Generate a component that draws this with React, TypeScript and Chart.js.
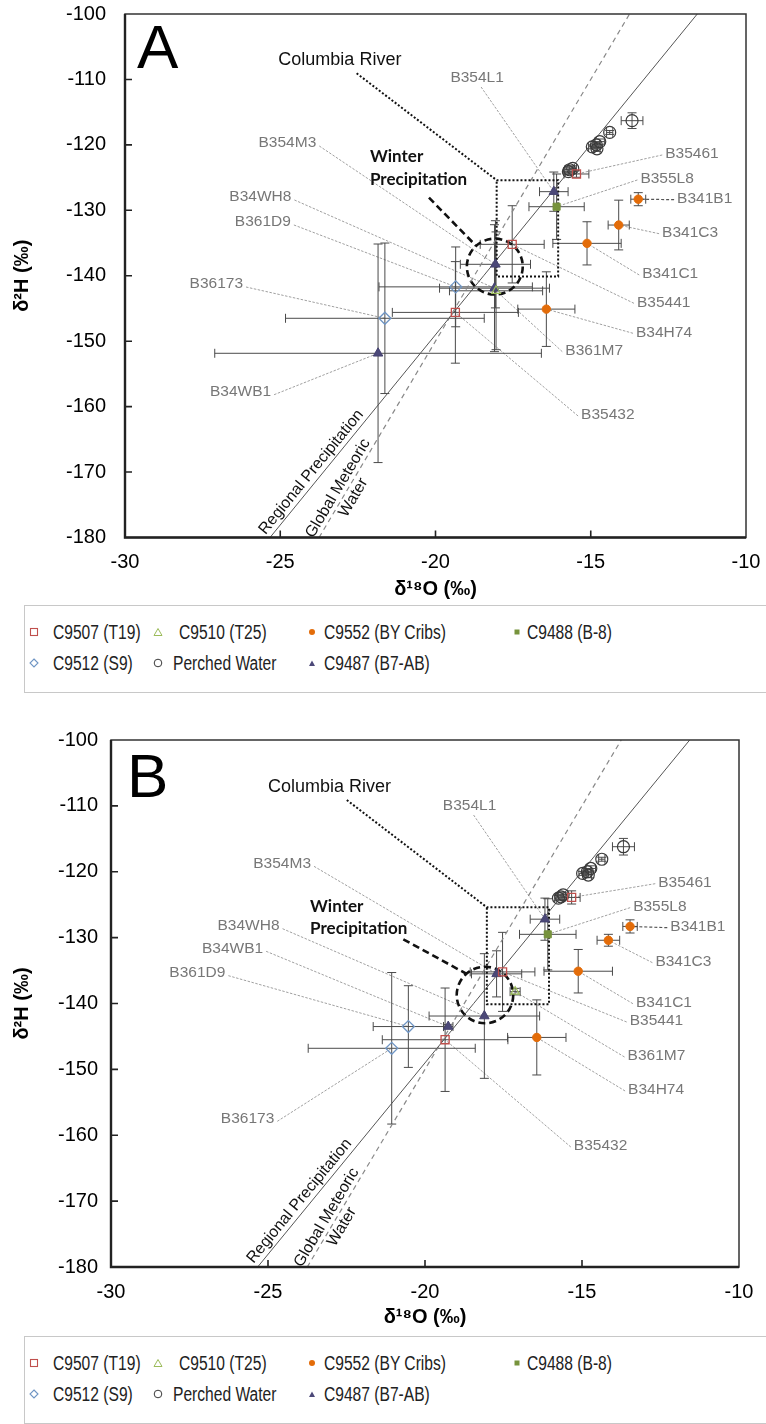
import React, { useEffect, useRef } from "react";
import { Chart, registerables } from "chart.js";
Chart.register(...registerables);

type P = { x: number; y: number; xe: number; ye: number; name?: string };
type L = { name: string; x: number; y: number; side: "l" | "r" | "b"; dark?: boolean };

const FONT = "'Liberation Sans', Arial, sans-serif";

// axis ranges and ticks
const X_MIN = -30, X_MAX = -10, X_STEP = 5;
const Y_MIN = -180, Y_MAX = -100, Y_STEP = 10;
const X_TITLE = "δ¹⁸O (‰)";
const Y_TITLE = "δ²H (‰)";

// reference lines (endpoints)
const REGIONAL_X = [-25.33, -11.57];
const REGIONAL_Y = [-180, -100];
const GMWL_X = [-23.75, -13.75];
const GMWL_Y = [-180, -100];

// Columbia River box (x left/right, y top/bottom)
const COL_BOX_X = [-18.03, -16.05];
const COL_BOX_Y = [-125.4, -140.1];

// ---------------- Panel A ----------------
const A_T19: P[] = [
  { name: "B35461", x: -15.46, y: -124.45, xe: 0.4, ye: 0.5 },
  { name: "B35441", x: -17.53, y: -135.2, xe: 1.03, ye: 5.9 },
  { name: "B35432", x: -19.36, y: -145.6, xe: 2.03, ye: 7.76 },
];
const A_T25: P[] = [{ name: "B361M7", x: -18.05, y: -142.3, xe: 1.5, ye: 9.0 }];
const A_BY: P[] = [
  { name: "B341B1", x: -13.47, y: -128.3, xe: 0.24, ye: 1.0 },
  { name: "B341C3", x: -14.1, y: -132.25, xe: 0.34, ye: 3.8 },
  { name: "B341C1", x: -15.12, y: -135.05, xe: 1.1, ye: 3.3 },
  { name: "B34H74", x: -16.43, y: -145.1, xe: 0.92, ye: 5.7 },
];
const A_B8: P[] = [{ name: "B355L8", x: -16.1, y: -129.45, xe: 0.89, ye: 5.0 }];
const A_S9: P[] = [
  { name: "B361D9", x: -19.35, y: -141.7, xe: 2.47, ye: 6.1 },
  { name: "B36173", x: -21.63, y: -146.5, xe: 3.2, ye: 11.5 },
];
const A_PW: P[] = [
  { x: -13.67, y: -116.3, xe: 0.35, ye: 1.2 },
  { x: -14.39, y: -118.1, xe: 0.1, ye: 0.3 },
  { x: -14.71, y: -119.5, xe: 0.15, ye: 0.4 },
  { x: -14.82, y: -120.0, xe: 0.12, ye: 0.4 },
  { x: -14.95, y: -120.3, xe: 0.12, ye: 0.3 },
  { x: -14.8, y: -120.6, xe: 0.1, ye: 0.4 },
  { x: -15.68, y: -123.8, xe: 0.15, ye: 0.4 },
  { x: -15.58, y: -123.6, xe: 0.12, ye: 0.4 },
  { x: -15.72, y: -124.1, xe: 0.15, ye: 0.4 },
];
const A_B7: P[] = [
  { name: "B354L1", x: -16.19, y: -127.15, xe: 0.46, ye: 3.0 },
  { name: "B354M3", x: -18.07, y: -138.25, xe: 1.13, ye: 6.66 },
  { name: "B34WH8", x: -18.1, y: -141.9, xe: 1.77, ye: 9.7 },
  { name: "B34WB1", x: -21.85, y: -151.85, xe: 5.26, ye: 16.7 },
];
const A_LABELS: L[] = [
  { name: "B354L1", x: -18.66, y: -109.78, side: "b" },
  { name: "B35461", x: -11.74, y: -121.39, side: "r" },
  { name: "B355L8", x: -12.54, y: -125.21, side: "r" },
  { name: "B341B1", x: -11.33, y: -128.22, side: "r", dark: true },
  { name: "B341C3", x: -11.8, y: -133.42, side: "r" },
  { name: "B341C1", x: -12.44, y: -139.73, side: "r" },
  { name: "B35441", x: -12.65, y: -144.06, side: "r" },
  { name: "B34H74", x: -12.64, y: -148.64, side: "r" },
  { name: "B361M7", x: -14.89, y: -151.45, side: "r" },
  { name: "B35432", x: -14.45, y: -161.28, side: "r" },
  { name: "B354M3", x: -24.77, y: -119.71, side: "l" },
  { name: "B34WH8", x: -25.64, y: -127.96, side: "l" },
  { name: "B361D9", x: -25.56, y: -131.78, side: "l" },
  { name: "B36173", x: -27.06, y: -141.26, side: "l" },
  { name: "B34WB1", x: -26.28, y: -157.72, side: "l" },
];
const A_COLUMBIA_TEXT = { x: -23.08, y: -107.03 };
const A_COLUMBIA_FROM = { x: -22.54, y: -109.06 };
const A_WINTER_TEXT = { x: -22.11, y1: -121.8, y2: -125.37 };
const A_WINTER_LEADER_X = [-20.21, -18.7];
const A_WINTER_LEADER_Y = [-128.07, -135.4];
const A_CIRCLE = { x: -18.09, y: -138.6, r: 0.9 };

// ---------------- Panel B ----------------
const B_T19: P[] = [
  { name: "B35461", x: -15.33, y: -123.9, xe: 0.27, ye: 1.0 },
  { name: "B35441", x: -17.53, y: -135.2, xe: 1.03, ye: 6.0 },
  { name: "B35432", x: -19.36, y: -145.5, xe: 2.0, ye: 7.85 },
];
const B_T25: P[] = [{ name: "B361M7", x: -17.13, y: -138.2, xe: 0.16, ye: 0.5 }];
const B_BY: P[] = [
  { name: "B341B1", x: -13.47, y: -128.3, xe: 0.23, ye: 1.0 },
  { name: "B341C3", x: -14.16, y: -130.4, xe: 0.36, ye: 0.9 },
  { name: "B341C1", x: -15.12, y: -135.1, xe: 1.09, ye: 3.3 },
  { name: "B34H74", x: -16.44, y: -145.15, xe: 0.93, ye: 5.7 },
];
const B_B8: P[] = [{ name: "B355L8", x: -16.09, y: -129.5, xe: 0.9, ye: 5.4 }];
const B_S9: P[] = [
  { name: "B361D9", x: -20.53, y: -143.5, xe: 1.12, ye: 6.2 },
  { name: "B36173", x: -21.06, y: -146.8, xe: 2.66, ye: 11.5 },
];
const B_PW: P[] = [
  { x: -13.68, y: -116.2, xe: 0.35, ye: 1.26 },
  { x: -14.37, y: -118.1, xe: 0.1, ye: 0.3 },
  { x: -14.72, y: -119.5, xe: 0.15, ye: 0.4 },
  { x: -14.83, y: -120.0, xe: 0.12, ye: 0.4 },
  { x: -14.98, y: -120.25, xe: 0.12, ye: 0.3 },
  { x: -14.8, y: -120.5, xe: 0.1, ye: 0.4 },
  { x: -15.67, y: -123.8, xe: 0.15, ye: 0.4 },
  { x: -15.75, y: -124.0, xe: 0.12, ye: 0.4 },
  { x: -15.6, y: -123.5, xe: 0.15, ye: 0.4 },
];
const B_B7: P[] = [
  { name: "B354L1", x: -16.18, y: -127.2, xe: 0.47, ye: 3.2 },
  { name: "B354M3", x: -17.72, y: -135.5, xe: 0.8, ye: 3.5 },
  { name: "B34WH8", x: -18.11, y: -141.9, xe: 1.76, ye: 9.46 },
  { name: "B34WB1", x: -19.26, y: -143.5, xe: 0.15, ye: 0.3 },
];
const B_LABELS: L[] = [
  { name: "B354L1", x: -18.58, y: -110.02, side: "b" },
  { name: "B35461", x: -11.72, y: -121.66, side: "r" },
  { name: "B355L8", x: -12.52, y: -125.3, side: "r" },
  { name: "B341B1", x: -11.31, y: -128.34, side: "r", dark: true },
  { name: "B341C3", x: -11.77, y: -133.65, side: "r" },
  { name: "B341C1", x: -12.39, y: -139.88, side: "r" },
  { name: "B35441", x: -12.63, y: -142.66, side: "r" },
  { name: "B361M7", x: -12.63, y: -147.97, side: "r" },
  { name: "B34H74", x: -12.64, y: -153.13, side: "r" },
  { name: "B35432", x: -14.41, y: -161.63, side: "r" },
  { name: "B354M3", x: -24.55, y: -118.72, side: "l" },
  { name: "B34WH8", x: -25.62, y: -128.19, side: "l" },
  { name: "B34WB1", x: -26.13, y: -131.62, side: "l" },
  { name: "B361D9", x: -27.25, y: -135.32, side: "l" },
  { name: "B36173", x: -25.65, y: -157.43, side: "l" },
];
const B_COLUMBIA_TEXT = { x: -23.04, y: -107.09 };
const B_COLUMBIA_FROM = { x: -22.49, y: -109.11 };
const B_WINTER_TEXT = { x: -23.66, y1: -125.3, y2: -128.58 };
const B_WINTER_LEADER_X = [-20.69, -18.67];
const B_WINTER_LEADER_Y = [-130.25, -135.52];
const B_CIRCLE = { x: -18.09, y: -138.71, r: 0.9 };

// line label anchors
const REG_LABEL = { x: -24.0, y: -170.0 };
const GMW_LABEL = { x: -22.89, y: -173.2 };

// series styles
const SERIES = [
  { key: "T19", label: "C9507 (T19)", style: "rect", radius: 5.7, stroke: "#c0504d", fill: "rgba(0,0,0,0)", width: 1.3 },
  { key: "T25", label: "C9510 (T25)", style: "triangle", radius: 5, stroke: "#9bbb59", fill: "rgba(0,0,0,0)", width: 1.2 },
  { key: "BY", label: "C9552 (BY Cribs)", style: "circle", radius: 4.2, stroke: "#e36c09", fill: "#e36c09", width: 1 },
  { key: "B8", label: "C9488 (B-8)", style: "rect", radius: 5, stroke: "#77933c", fill: "#77933c", width: 1 },
  { key: "S9", label: "C9512 (S9)", style: "rectRot", radius: 6, stroke: "#6f95c4", fill: "rgba(0,0,0,0)", width: 1.3 },
  { key: "PW", label: "Perched Water", style: "circle", radius: 6, stroke: "#3a3a3a", fill: "rgba(0,0,0,0)", width: 1.2 },
  { key: "B7", label: "C9487 (B7-AB)", style: "triangle", radius: 5.5, stroke: "#45426f", fill: "#4b4878", width: 1 },
];

type Panel = {
  letter: string;
  data: Record<string, P[]>;
  labels: L[];
  columbiaText: { x: number; y: number };
  columbiaFrom: { x: number; y: number };
  winterText: { x: number; y1: number; y2: number };
  winterLX: number[];
  winterLY: number[];
  circle: { x: number; y: number; r: number };
  top: number;
  height: number;
  padTop: number;
  padRight: number;
  yWidth: number;
  xHeight: number;
  yTickPad: number;
  letterDX: number;
  letterDY: number;
};

const PANEL_A: Panel = {
  letter: "A",
  data: { T19: A_T19, T25: A_T25, BY: A_BY, B8: A_B8, S9: A_S9, PW: A_PW, B7: A_B7 },
  labels: A_LABELS,
  columbiaText: A_COLUMBIA_TEXT,
  columbiaFrom: A_COLUMBIA_FROM,
  winterText: A_WINTER_TEXT,
  winterLX: A_WINTER_LEADER_X,
  winterLY: A_WINTER_LEADER_Y,
  circle: A_CIRCLE,
  top: 0,
  height: 602,
  padTop: 14,
  padRight: 20,
  yWidth: 125,
  xHeight: 64.5,
  yTickPad: 19,
  letterDX: 12,
  letterDY: 54,
};
const PANEL_B: Panel = {
  letter: "B",
  data: { T19: B_T19, T25: B_T25, BY: B_BY, B8: B_B8, S9: B_S9, PW: B_PW, B7: B_B7 },
  labels: B_LABELS,
  columbiaText: B_COLUMBIA_TEXT,
  columbiaFrom: B_COLUMBIA_FROM,
  winterText: B_WINTER_TEXT,
  winterLX: B_WINTER_LEADER_X,
  winterLY: B_WINTER_LEADER_Y,
  circle: B_CIRCLE,
  top: 700,
  height: 630,
  padTop: 40,
  padRight: 27,
  yWidth: 111,
  xHeight: 63,
  yTickPad: 13,
  letterDX: 16,
  letterDY: 57,
};

function makeOverlay(panel: Panel) {
  const allPts: P[] = Object.values(panel.data).flat();
  const find = (n: string) => allPts.find((p) => p.name === n);
  return {
    id: "overlay" + panel.letter,
    beforeDatasetsDraw(chart: any) {
      const { ctx, chartArea: a } = chart;
      const xs = chart.scales.x, ys = chart.scales.y;
      ctx.save();
      ctx.beginPath();
      ctx.rect(a.left, a.top, a.right - a.left, a.bottom - a.top);
      ctx.clip();
      // leader lines
      ctx.font = `15.5px ${FONT}`;
      for (const l of panel.labels) {
        const p = find(l.name);
        if (!p) continue;
        const px = xs.getPixelForValue(l.x), py = ys.getPixelForValue(l.y);
        const w = ctx.measureText(l.name).width;
        let sx = px, sy = py;
        if (l.side === "r") { sx = px - w / 2 - 3; sy = py + 1; }
        else if (l.side === "l") { sx = px + w / 2 + 3; sy = py + 3; }
        else { sx = px + 4; sy = py + 9; }
        const tx = xs.getPixelForValue(p.x), ty = ys.getPixelForValue(p.y);
        ctx.beginPath();
        ctx.strokeStyle = l.dark ? "#555" : "#a0a0a0";
        ctx.lineWidth = l.dark ? 1.2 : 1;
        ctx.setLineDash(l.dark ? [3, 2] : [2.5, 1.5]);
        ctx.moveTo(sx, sy);
        ctx.lineTo(tx, ty);
        ctx.stroke();
      }
      ctx.setLineDash([]);
      // error bars
      const CAP = 4.5;
      ctx.strokeStyle = "#4a4a4a";
      ctx.lineWidth = 1;
      for (const s of SERIES) {
        for (const d of panel.data[s.key]) {
          const cx = xs.getPixelForValue(d.x), cy = ys.getPixelForValue(d.y);
          const x1 = xs.getPixelForValue(d.x - d.xe), x2 = xs.getPixelForValue(d.x + d.xe);
          const y1 = ys.getPixelForValue(d.y - d.ye), y2 = ys.getPixelForValue(d.y + d.ye);
          ctx.beginPath();
          ctx.moveTo(x1, cy); ctx.lineTo(x2, cy);
          ctx.moveTo(x1, cy - CAP); ctx.lineTo(x1, cy + CAP);
          ctx.moveTo(x2, cy - CAP); ctx.lineTo(x2, cy + CAP);
          ctx.moveTo(cx, y1); ctx.lineTo(cx, y2);
          ctx.moveTo(cx - CAP, y1); ctx.lineTo(cx + CAP, y1);
          ctx.moveTo(cx - CAP, y2); ctx.lineTo(cx + CAP, y2);
          ctx.stroke();
        }
      }
      // winter precipitation circle
      const ccx = xs.getPixelForValue(panel.circle.x), ccy = ys.getPixelForValue(panel.circle.y);
      const cr = xs.getPixelForValue(panel.circle.x + panel.circle.r) - ccx;
      ctx.beginPath();
      ctx.strokeStyle = "#111";
      ctx.lineWidth = 2.6;
      ctx.setLineDash([7, 4]);
      ctx.arc(ccx, ccy, cr, 0, Math.PI * 2);
      ctx.stroke();
      ctx.setLineDash([]);
      ctx.restore();
    },
    afterDatasetsDraw(chart: any) {
      const { ctx, chartArea: a } = chart;
      const xs = chart.scales.x, ys = chart.scales.y;
      ctx.save();
      // point labels
      ctx.font = `15.5px ${FONT}`;
      ctx.fillStyle = "#777";
      ctx.textAlign = "center";
      ctx.textBaseline = "middle";
      for (const l of panel.labels) {
        ctx.fillText(l.name, xs.getPixelForValue(l.x), ys.getPixelForValue(l.y));
      }
      // Columbia River
      ctx.fillStyle = "#111";
      ctx.font = `18px ${FONT}`;
      ctx.fillText("Columbia River", xs.getPixelForValue(panel.columbiaText.x), ys.getPixelForValue(panel.columbiaText.y));
      // Winter Precipitation
      ctx.font = `bold 17px Lato, ${FONT}`;
      ctx.textAlign = "left";
      ctx.fillText("Winter", xs.getPixelForValue(panel.winterText.x), ys.getPixelForValue(panel.winterText.y1));
      ctx.fillText("Precipitation", xs.getPixelForValue(panel.winterText.x), ys.getPixelForValue(panel.winterText.y2));
      // rotated line labels
      const along = (lx: number[], ly: number[], anchor: { x: number; y: number }, lines: string[]) => {
        const x1 = xs.getPixelForValue(lx[0]), y1 = ys.getPixelForValue(ly[0]);
        const x2 = xs.getPixelForValue(lx[1]), y2 = ys.getPixelForValue(ly[1]);
        const ang = Math.atan2(y2 - y1, x2 - x1);
        ctx.save();
        ctx.translate(xs.getPixelForValue(anchor.x), ys.getPixelForValue(anchor.y));
        ctx.rotate(ang);
        ctx.textAlign = "center";
        ctx.textBaseline = "middle";
        const lh = 18;
        lines.forEach((t, i) => ctx.fillText(t, 0, (i - (lines.length - 1) / 2) * lh));
        ctx.restore();
      };
      ctx.font = `16px ${FONT}`;
      ctx.fillStyle = "#111";
      along(REGIONAL_X, REGIONAL_Y, REG_LABEL, ["Regional Precipitation"]);
      along(GMWL_X, GMWL_Y, GMW_LABEL, ["Global Meteoric", "Water"]);
      // panel letter
      ctx.font = `62px ${FONT}`;
      ctx.textAlign = "left";
      ctx.textBaseline = "alphabetic";
      ctx.fillStyle = "#000";
      ctx.fillText(panel.letter, a.left + panel.letterDX, a.top + panel.letterDY);
      ctx.restore();
    },
    afterDraw(chart: any) {
      const { ctx, chartArea: a } = chart;
      const xs = chart.scales.x, ys = chart.scales.y;
      ctx.save();
      ctx.strokeStyle = "#333";
      ctx.lineWidth = 1.5;
      ctx.strokeRect(a.left, a.top, a.right - a.left, a.bottom - a.top);
      ctx.strokeStyle = "#222";
      ctx.lineWidth = 2.4;
      ctx.beginPath();
      ctx.moveTo(a.left, a.top);
      ctx.lineTo(a.left, a.bottom);
      ctx.lineTo(a.right, a.bottom);
      ctx.stroke();
      // inside tick marks
      ctx.lineWidth = 1.6;
      ctx.beginPath();
      for (const t of ys.ticks) {
        if (t.value <= Y_MIN || t.value >= Y_MAX) continue;
        const py = ys.getPixelForValue(t.value);
        ctx.moveTo(a.left, py);
        ctx.lineTo(a.left + 7, py);
      }
      for (const t of xs.ticks) {
        if (t.value <= X_MIN || t.value >= X_MAX) continue;
        const px = xs.getPixelForValue(t.value);
        ctx.moveTo(px, a.bottom);
        ctx.lineTo(px, a.bottom - 7);
      }
      ctx.stroke();
      ctx.restore();
    },
  };
}

function makeConfig(panel: Panel): any {
  const datasets: any[] = [];
  datasets.push({
    label: "Regional Precipitation",
    data: REGIONAL_X.map((x, i) => ({ x, y: REGIONAL_Y[i] })),
    showLine: true, pointRadius: 0, borderColor: "#555", borderWidth: 1, order: 20,
  });
  datasets.push({
    label: "Global Meteoric Water",
    data: GMWL_X.map((x, i) => ({ x, y: GMWL_Y[i] })),
    showLine: true, pointRadius: 0, borderColor: "#888", borderWidth: 1.2, borderDash: [5, 4], order: 20,
  });
  datasets.push({
    label: "Columbia River",
    data: [
      panel.columbiaFrom,
      { x: COL_BOX_X[0], y: COL_BOX_Y[0] },
      { x: COL_BOX_X[1], y: COL_BOX_Y[0] },
      { x: COL_BOX_X[1], y: COL_BOX_Y[1] },
      { x: COL_BOX_X[0], y: COL_BOX_Y[1] },
      { x: COL_BOX_X[0], y: COL_BOX_Y[0] },
    ],
    showLine: true, pointRadius: 0, borderColor: "#111", borderWidth: 2, borderDash: [2, 2], order: 15,
  });
  datasets.push({
    label: "Winter Precipitation",
    data: panel.winterLX.map((x, i) => ({ x, y: panel.winterLY[i] })),
    showLine: true, pointRadius: 0, borderColor: "#111", borderWidth: 2.6, borderDash: [7, 4], order: 15,
  });
  SERIES.forEach((s, i) => {
    datasets.push({
      label: s.label,
      data: panel.data[s.key].map((d) => ({ x: d.x, y: d.y })),
      pointStyle: s.style,
      pointRadius: s.radius,
      pointBorderColor: s.stroke,
      pointBackgroundColor: s.fill,
      pointBorderWidth: s.width,
      borderColor: s.stroke,
      backgroundColor: s.fill,
      showLine: false,
      order: 1 + i,
    });
  });
  const tickFont = { family: FONT, size: 20 };
  const titleFont = { family: FONT, size: 20, weight: "bold" as const };
  return {
    type: "scatter",
    data: { datasets },
    options: {
      animation: false,
      responsive: false,
      maintainAspectRatio: false,
      events: [],
      layout: { padding: { left: 0, right: panel.padRight, top: panel.padTop, bottom: 0 } },
      plugins: { legend: { display: false }, tooltip: { enabled: false } },
      scales: {
        x: {
          type: "linear", min: X_MIN, max: X_MAX,
          ticks: { stepSize: X_STEP, color: "#000", font: tickFont, padding: 13 },
          grid: { display: false, drawTicks: false },
          border: { display: false },
          title: { display: true, text: X_TITLE, color: "#000", font: titleFont, padding: { top: 0, bottom: 1 } },
          afterFit: (s: any) => { s.height = panel.xHeight; s.paddingLeft = 0; s.paddingRight = 0; },
        },
        y: {
          type: "linear", min: Y_MIN, max: Y_MAX,
          ticks: { stepSize: Y_STEP, color: "#000", font: tickFont, padding: panel.yTickPad },
          grid: { display: false, drawTicks: false },
          border: { display: false },
          title: { display: true, text: Y_TITLE, color: "#000", font: titleFont, padding: { top: 10, bottom: 0 } },
          afterFit: (s: any) => { s.width = panel.yWidth; s.paddingTop = 0; s.paddingBottom = 0; },
        },
      },
    },
    plugins: [makeOverlay(panel)],
  };
}

function PanelChart({ panel }: { panel: Panel }) {
  const ref = useRef<HTMLCanvasElement | null>(null);
  useEffect(() => {
    if (!ref.current) return;
    const chart = new Chart(ref.current, makeConfig(panel));
    return () => chart.destroy();
  }, [panel]);
  return (
    <canvas
      ref={ref}
      width={766}
      height={panel.height}
      style={{ position: "absolute", left: 0, top: panel.top, width: 766, height: panel.height }}
    />
  );
}

// legend layout (page x of marker centre and text start, row index)
const LEGEND_LAYOUT: { key: string; mark: number; text: number; row: number }[] = [
  { key: "T19", mark: 33, text: 52, row: 0 },
  { key: "T25", mark: 157, text: 178, row: 0 },
  { key: "BY", mark: 311, text: 323, row: 0 },
  { key: "B8", mark: 516, text: 526, row: 0 },
  { key: "S9", mark: 33, text: 52, row: 1 },
  { key: "PW", mark: 157, text: 172, row: 1 },
  { key: "B7", mark: 311, text: 323, row: 1 },
];

function LegendMarker({ s }: { s: (typeof SERIES)[number] }) {
  const c = 5;
  let shape: any = null;
  if (s.key === "T19") shape = <rect x={1.5} y={1.5} width={7} height={7} fill="none" stroke={s.stroke} strokeWidth={1.1} />;
  else if (s.key === "T25") shape = <polygon points="5,1.5 9,8.5 1,8.5" fill="none" stroke={s.stroke} strokeWidth={1} />;
  else if (s.key === "BY") shape = <circle cx={c} cy={c} r={3} fill={s.fill} />;
  else if (s.key === "B8") shape = <rect x={2.5} y={2.5} width={5} height={5} fill={s.fill} />;
  else if (s.key === "S9") shape = <polygon points="5,1 9,5 5,9 1,5" fill="none" stroke={s.stroke} strokeWidth={1.1} />;
  else if (s.key === "PW") shape = <circle cx={c} cy={c} r={3.8} fill="none" stroke={s.stroke} strokeWidth={1} />;
  else shape = <polygon points="5,2.5 8,8 2,8" fill={s.fill} />;
  return (
    <svg width={10} height={10} style={{ position: "absolute", left: -5, top: -5 }}>
      {shape}
    </svg>
  );
}

function Legend({ top }: { top: number }) {
  const rowY = [26, 57];
  return (
    <div
      style={{
        position: "absolute", left: 24, top, width: 760, height: 88,
        border: "1px solid #c8c8c8", boxSizing: "border-box", background: "#fff",
      }}
    >
      {LEGEND_LAYOUT.map((it) => {
        const s = SERIES.find((q) => q.key === it.key)!;
        const y = rowY[it.row];
        return (
          <React.Fragment key={it.key}>
            <div style={{ position: "absolute", left: it.mark - 24, top: y }}>
              <LegendMarker s={s} />
            </div>
            <div
              style={{
                position: "absolute", left: it.text - 24, top: y - 12,
                fontFamily: FONT,
                fontSize: 19.5, lineHeight: "24px", color: "#222", whiteSpace: "nowrap",
                transform: "scaleX(0.8)", transformOrigin: "left center",
              }}
            >
              {s.label}
            </div>
          </React.Fragment>
        );
      })}
    </div>
  );
}

export default function App() {
  return (
    <div style={{ position: "absolute", left: 0, top: 0, width: 766, height: 1424, background: "#fff", overflow: "hidden" }}>
      <PanelChart panel={PANEL_A} />
      <Legend top={605} />
      <PanelChart panel={PANEL_B} />
      <Legend top={1336} />
    </div>
  );
}
